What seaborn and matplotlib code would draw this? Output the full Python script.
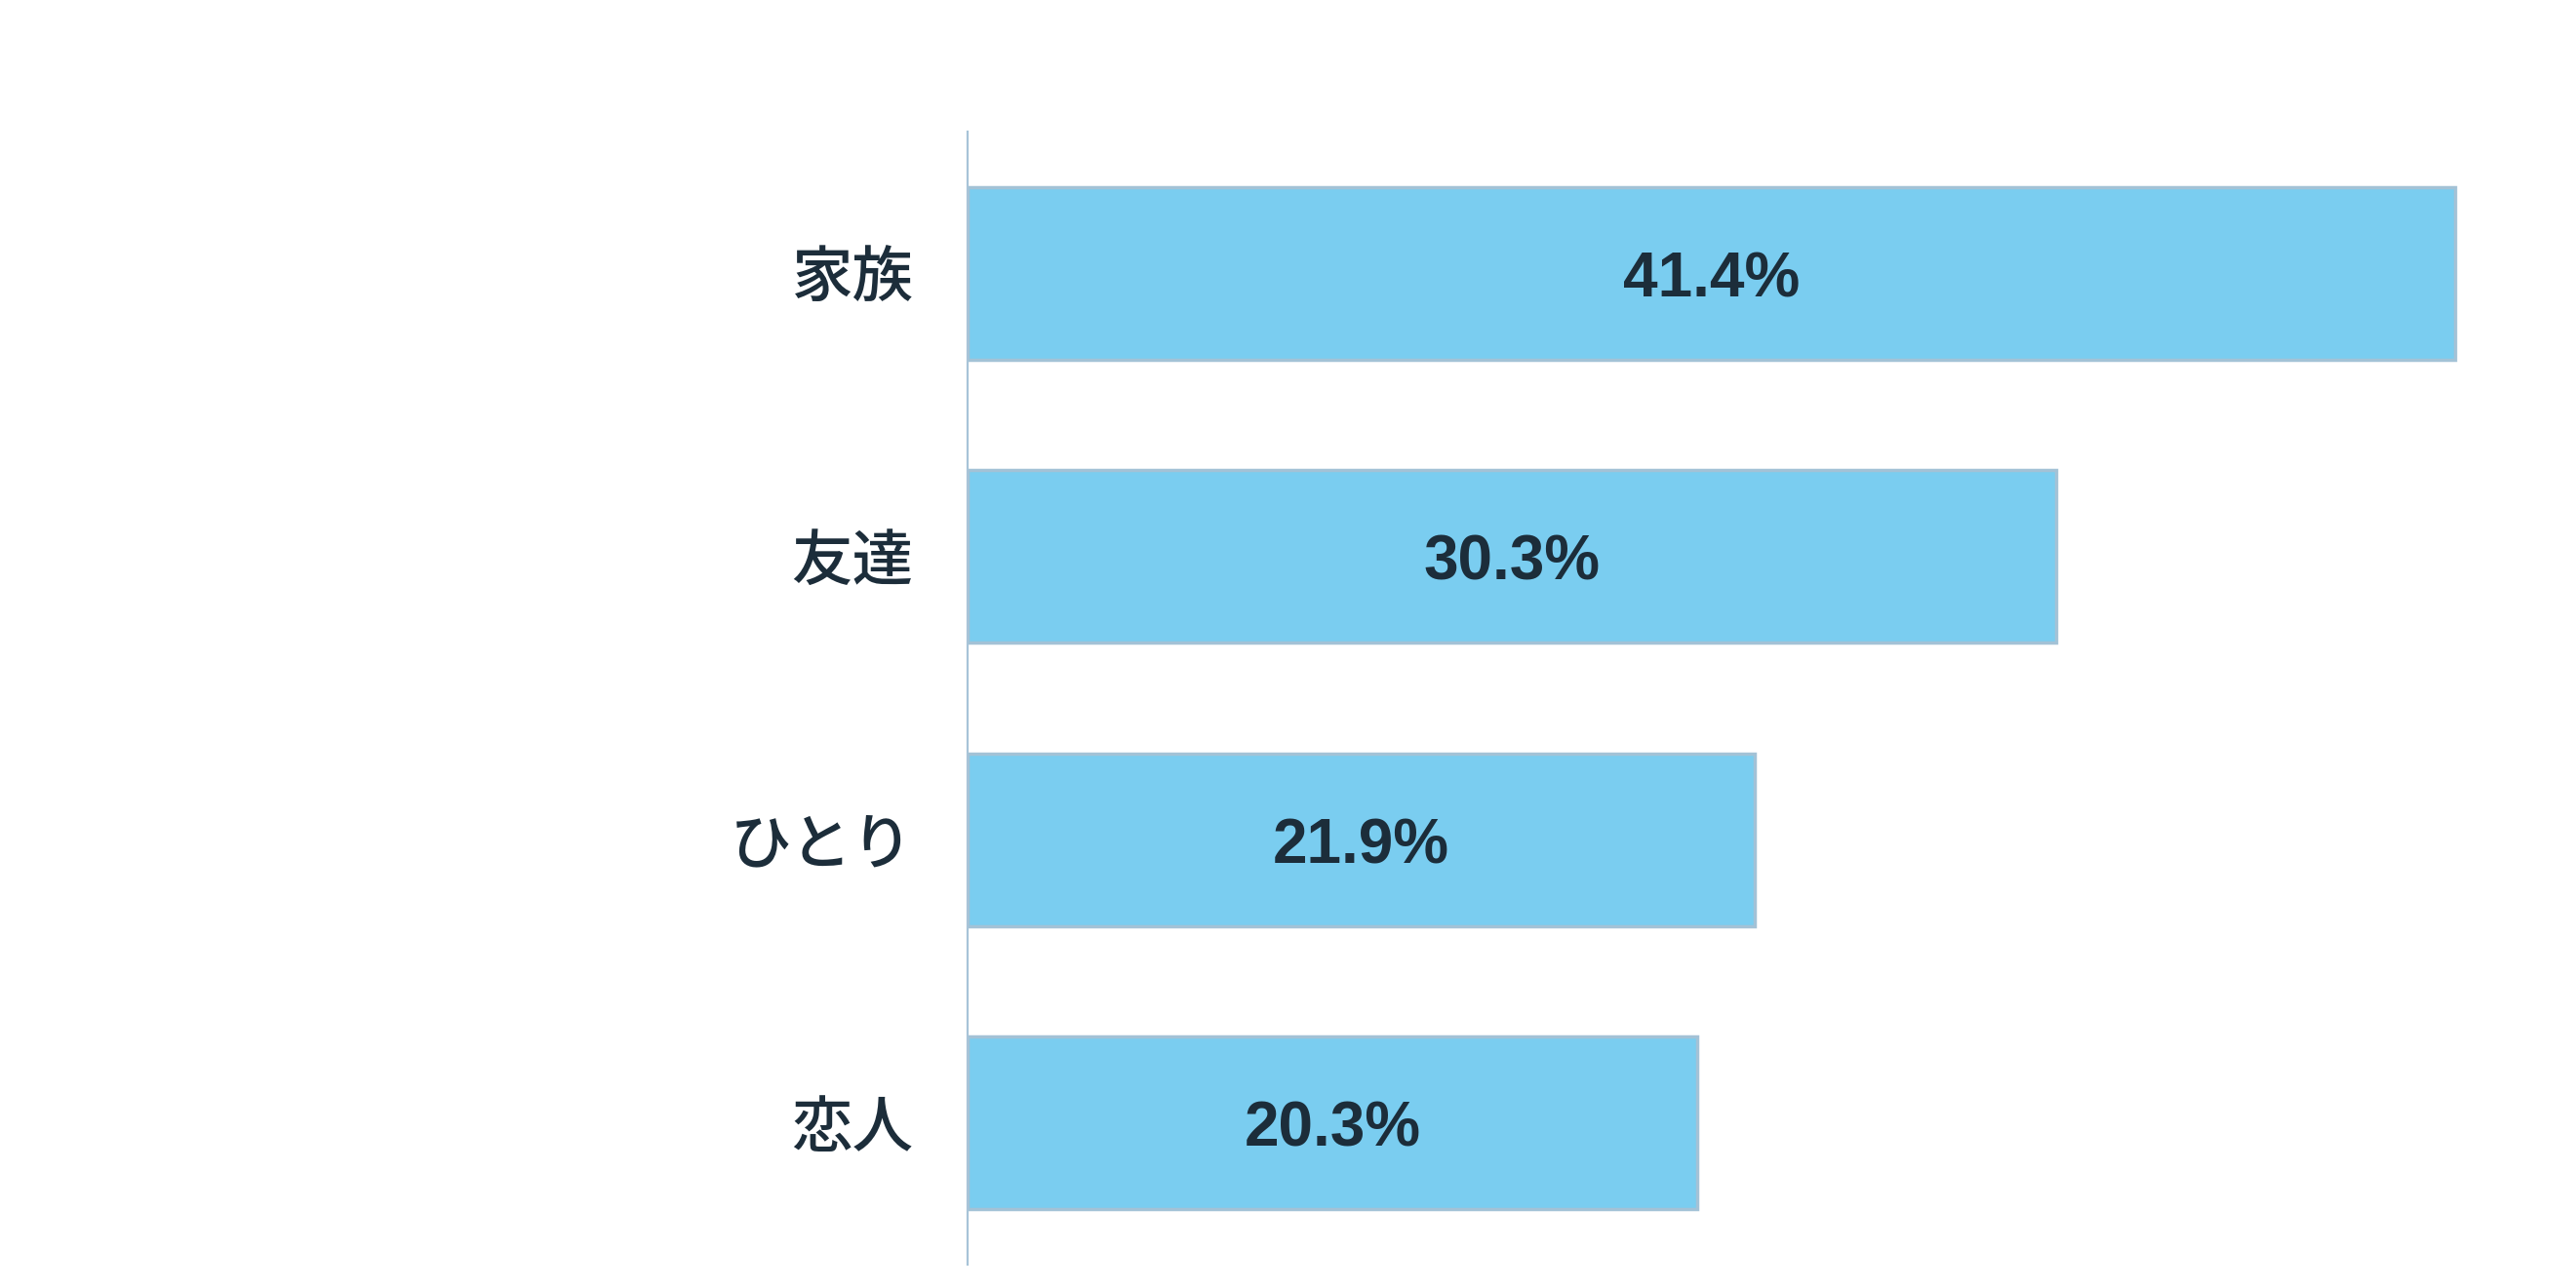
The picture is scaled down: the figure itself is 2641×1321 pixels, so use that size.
import matplotlib
matplotlib.use("Agg")
import matplotlib.pyplot as plt
import seaborn as sns
import pandas as pd

categories = ["家族", "友達", "ひとり", "恋人"]
values = [41.4, 30.3, 21.9, 20.3]
value_labels = ["41.4%", "30.3%", "21.9%", "20.3%"]

sns.set_style("white")
plt.rcParams['font.family'] = ['Noto Sans CJK JP', 'DejaVu Sans']

df = pd.DataFrame({"cat": categories, "val": values})

fig = plt.figure(figsize=(26.41, 13.21), dpi=100)
ax = fig.add_axes([992/2641, 1 - 1297/1321, (2620 - 992)/2641, (1297 - 135)/1321])

sns.barplot(data=df, x="val", y="cat", orient="h", ax=ax, color="#7acdf0",
            saturation=1, width=0.61, edgecolor="#a3c2d6", linewidth=2.5)

ax.set_xlim(0, 44.2)
ax.set_ylim(3.5, -0.5)
ax.set_xlabel("")
ax.set_ylabel("")
ax.set_xticks([])
for s in ["top", "right", "bottom"]:
    ax.spines[s].set_visible(False)
ax.spines["left"].set_color("#a8c4d8")
ax.spines["left"].set_linewidth(1.6)
ax.tick_params(axis="y", length=0, pad=40, labelsize=45, labelcolor="#1c2d3a")
for t in ax.get_yticklabels():
    t.set_fontweight("medium")

for i, (v, lab) in enumerate(zip(values, value_labels)):
    ax.annotate(lab, xy=(v / 2, i), xytext=(0, -5), textcoords="offset points",
                ha="center", va="center", fontsize=46,
                fontweight="bold", color="#1c2d3a", family=["Liberation Sans", "DejaVu Sans"])

fig.savefig("out.png", dpi=100, facecolor="white")
